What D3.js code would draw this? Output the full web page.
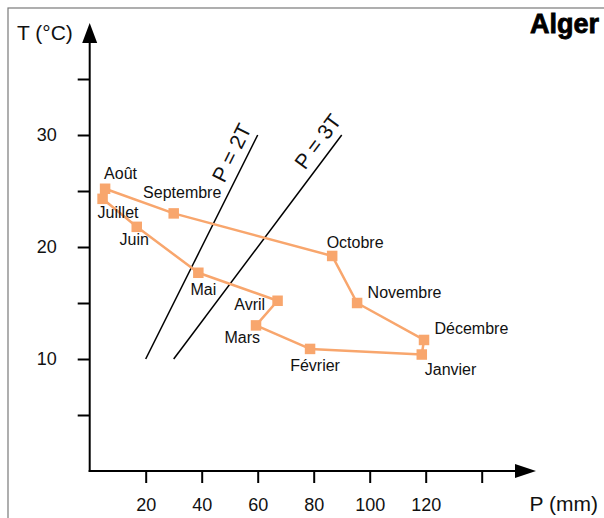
<!DOCTYPE html>
<html>
<head>
<meta charset="utf-8">
<script src="https://cdn.jsdelivr.net/npm/d3@7"></script>
<style>
  html, body { margin: 0; padding: 0; background: #fff; }
  svg { display: block; font-family: "Liberation Sans", Arial, Helvetica, sans-serif; }
</style>
</head>
<body>
<svg id="chart" width="604" height="518"></svg>
<script>
// climate diagram data for Alger
const months = ['Janvier', 'Février', 'Mars', 'Avril', 'Mai', 'Juin',
  'Juillet', 'Août', 'Septembre', 'Octobre', 'Novembre', 'Décembre'];
const precip = [118.6, 78.7, 59.4, 67.1, 38.8, 16.8, 4.6, 5.5, 30, 86.6, 95.5, 119.4];
const temp = [10.4, 10.9, 13.0, 15.2, 17.7, 21.8, 24.3, 25.2, 23.0, 19.2, 15.0, 11.7];

const xTicks = [20, 40, 60, 80, 100, 120, 140];
const xTickLabels = ['20', '40', '60', '80', '100', '120', ''];
const yTicks = [5, 10, 15, 20, 25, 30, 35];
const yTickLabels = ['', '10', '', '20', '', '30', ''];

// reference lines P = k * T, drawn for T between 10 and 30
const ratios = [2, 3];
const ratioLabels = ['P = 2T', 'P = 3T'];
const refT = [10, 30];

// where each month label sits relative to its square
const labelPos = [
  { dx: 3, dy: 20, anchor: 'start' },
  { dx: 5, dy: 22.5, anchor: 'middle' },
  { dx: 4, dy: 17.5, anchor: 'end' },
  { dx: -12.5, dy: 9, anchor: 'end' },
  { dx: 5, dy: 22.5, anchor: 'middle' },
  { dx: -2.5, dy: 18.5, anchor: 'middle' },
  { dx: -5, dy: 19.5, anchor: 'start' },
  { dx: -1, dy: -9.5, anchor: 'start' },
  { dx: 8.5, dy: -15.5, anchor: 'middle' },
  { dx: -5.5, dy: -8, anchor: 'start' },
  { dx: 10.5, dy: -5.5, anchor: 'start' },
  { dx: 10.5, dy: -5.5, anchor: 'start' }
];

const orange = '#f8a66d';
const svg = d3.select('#chart');

const x = d3.scaleLinear().domain([0, 140]).range([89.7, 481.7]);
const y = d3.scaleLinear().domain([0, 35]).range([471, 79]);

// frame (only top and left edges are inside the picture)
svg.append('rect')
  .attr('x', 8).attr('y', 8)
  .attr('width', 640).attr('height', 560)
  .attr('fill', 'none')
  .attr('stroke', '#7a7a7a')
  .attr('stroke-width', 1.2);

// axes
const yAxis = d3.axisLeft(y)
  .tickValues(yTicks)
  .tickFormat((d, i) => yTickLabels[i])
  .tickSize(12)
  .tickSizeOuter(0)
  .tickPadding(21);

const xAxis = d3.axisBottom(x)
  .tickValues(xTicks)
  .tickFormat((d, i) => xTickLabels[i])
  .tickSize(12)
  .tickSizeOuter(0)
  .tickPadding(15);

const gy = svg.append('g')
  .attr('transform', `translate(${x(0)},0)`)
  .call(yAxis);
const gx = svg.append('g')
  .attr('transform', `translate(0,${y(0)})`)
  .call(xAxis);

[gx, gy].forEach(g => {
  g.select('.domain').remove();
  g.selectAll('.tick line').attr('stroke', '#000').attr('stroke-width', 2);
  g.selectAll('.tick text')
    .attr('fill', '#111')
    .style('font-size', '18px')
    .style('font-family', '"Liberation Sans", Arial, Helvetica, sans-serif');
});

// axis lines with arrow heads
svg.append('line')
  .attr('x1', x(0)).attr('y1', y(0) + 1)
  .attr('x2', x(0)).attr('y2', 40)
  .attr('stroke', '#000').attr('stroke-width', 2);
svg.append('path')
  .attr('d', `M${x(0)},23 L${x(0) + 7.5},43 L${x(0) - 7.5},43 Z`)
  .attr('fill', '#000');

svg.append('line')
  .attr('x1', x(0) - 1).attr('y1', y(0))
  .attr('x2', 518).attr('y2', y(0))
  .attr('stroke', '#000').attr('stroke-width', 2);
svg.append('path')
  .attr('d', `M536,${y(0)} L515,${y(0) - 7} L515,${y(0) + 7} Z`)
  .attr('fill', '#000');

// axis titles
svg.append('text')
  .attr('x', 17).attr('y', 40)
  .style('font-size', '21px')
  .attr('fill', '#111')
  .text('T (°C)');

svg.append('text')
  .attr('x', 598).attr('y', 511)
  .attr('text-anchor', 'end')
  .style('font-size', '21px')
  .attr('fill', '#111')
  .text('P (mm)');

svg.append('text')
  .attr('x', 599).attr('y', 33)
  .attr('text-anchor', 'end')
  .style('font-size', '27px')
  .style('font-weight', 'bold')
  .attr('fill', '#000')
  .attr('stroke', '#000')
  .attr('stroke-width', 0.8)
  .text('Alger');

// P = kT reference lines
const labelAlong = [0.89, 0.93];
ratios.forEach((k, i) => {
  const x1 = x(k * refT[0]), y1 = y(refT[0]);
  const x2 = x(k * refT[1]), y2 = y(refT[1]);
  svg.append('line')
    .attr('x1', x1).attr('y1', y1)
    .attr('x2', x2).attr('y2', y2)
    .attr('stroke', '#000')
    .attr('stroke-width', 1.5);

  const a = Math.atan2(y2 - y1, x2 - x1);
  const f = labelAlong[i];
  const off = 8;
  const px = x1 + (x2 - x1) * f + off * Math.sin(a);
  const py = y1 + (y2 - y1) * f - off * Math.cos(a);
  svg.append('text')
    .attr('transform', `translate(${px},${py}) rotate(${a * 180 / Math.PI})`)
    .attr('text-anchor', 'middle')
    .style('font-size', '21px')
    .attr('fill', '#111')
    .text(ratioLabels[i]);
});

// the yearly loop of monthly values
const pts = months.map((m, i) => ({ month: m, p: precip[i], t: temp[i], i }));

const line = d3.line()
  .x(d => x(d.p))
  .y(d => y(d.t))
  .curve(d3.curveLinearClosed);

svg.append('path')
  .datum(pts)
  .attr('d', line)
  .attr('fill', 'none')
  .attr('stroke', orange)
  .attr('stroke-width', 2.5)
  .attr('stroke-linejoin', 'round');

const sq = 10.5;
svg.selectAll('rect.pt')
  .data(pts)
  .join('rect')
  .attr('class', 'pt')
  .attr('x', d => x(d.p) - sq / 2)
  .attr('y', d => y(d.t) - sq / 2)
  .attr('width', sq)
  .attr('height', sq)
  .attr('fill', orange);

svg.selectAll('text.month')
  .data(pts)
  .join('text')
  .attr('class', 'month')
  .attr('x', d => x(d.p) + labelPos[d.i].dx)
  .attr('y', d => y(d.t) + labelPos[d.i].dy)
  .attr('text-anchor', d => labelPos[d.i].anchor)
  .style('font-size', '16px')
  .attr('fill', '#111')
  .text(d => d.month);
</script>
</body>
</html>
